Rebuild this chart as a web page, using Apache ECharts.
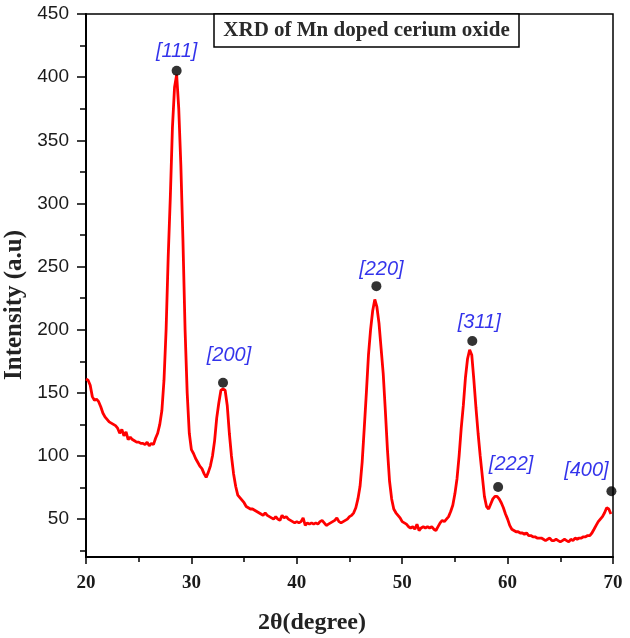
<!DOCTYPE html>
<html>
<head>
<meta charset="utf-8">
<script src="https://cdn.jsdelivr.net/npm/echarts@6/dist/echarts.min.js"></script>
<style>html,body{margin:0;padding:0;background:#fff;}#c{width:630px;height:638px;}</style>
</head>
<body>
<div id="c"></div>
<script>
// ---- data ----
var twoTheta = [20.0,20.2,20.4,20.6,20.8,21.0,21.2,21.4,21.6,21.8,22.0,22.2,22.4,22.6,22.8,23.0,23.2,23.4,23.6,23.8,24.0,24.2,24.4,24.6,24.8,25.0,25.2,25.4,25.6,25.8,26.0,26.2,26.4,26.6,26.8,27.0,27.2,27.4,27.6,27.8,28.0,28.2,28.4,28.6,28.8,29.0,29.2,29.4,29.6,29.8,30.0,30.2,30.4,30.6,30.8,31.0,31.2,31.4,31.6,31.8,32.0,32.2,32.4,32.6,32.8,33.0,33.2,33.4,33.6,33.8,34.0,34.2,34.4,34.6,34.8,35.0,35.2,35.4,35.6,35.8,36.0,36.2,36.4,36.6,36.8,37.0,37.2,37.4,37.6,37.8,38.0,38.2,38.4,38.6,38.8,39.0,39.2,39.4,39.6,39.8,40.0,40.2,40.4,40.6,40.8,41.0,41.2,41.4,41.6,41.8,42.0,42.2,42.4,42.6,42.8,43.0,43.2,43.4,43.6,43.8,44.0,44.2,44.4,44.6,44.8,45.0,45.2,45.4,45.6,45.8,46.0,46.2,46.4,46.6,46.8,47.0,47.2,47.4,47.6,47.8,48.0,48.2,48.4,48.6,48.8,49.0,49.2,49.4,49.6,49.8,50.0,50.2,50.4,50.6,50.8,51.0,51.2,51.4,51.6,51.8,52.0,52.2,52.4,52.6,52.8,53.0,53.2,53.4,53.6,53.8,54.0,54.2,54.4,54.6,54.8,55.0,55.2,55.4,55.6,55.8,56.0,56.2,56.4,56.6,56.8,57.0,57.2,57.4,57.6,57.8,58.0,58.2,58.4,58.6,58.8,59.0,59.2,59.4,59.6,59.8,60.0,60.2,60.4,60.6,60.8,61.0,61.2,61.4,61.6,61.8,62.0,62.2,62.4,62.6,62.8,63.0,63.2,63.4,63.6,63.8,64.0,64.2,64.4,64.6,64.8,65.0,65.2,65.4,65.6,65.8,66.0,66.2,66.4,66.6,66.8,67.0,67.2,67.4,67.6,67.8,68.0,68.2,68.4,68.6,68.8,69.0,69.2,69.4,69.6,69.8];
var intensity = [161,160,156,147,144,145,143,139,134,131,129,127,126,125,124,122,118,121,116,119,113,115,113,112,111,111,110,110,109,111,108,110,109,114,118,125,136,160,200,258,305,360,392,402,375,330,270,200,150,118,105,102,98,95,92,90,86,83,87,92,100,112,130,142,152,153,152,140,118,100,86,76,69,67,65,63,60,59,58,58,57,56,55,54,53,55,53,52,51,50,52,50,49,53,51,52,50,49,48,47,48,47,48,51,45,47,46,47,46,47,46,48,49,47,45,46,47,48,49,51,48,47,48,49,50,52,53,55,59,66,76,95,122,150,180,200,215,224,218,205,185,165,136,105,80,66,58,55,53,51,48,47,46,44,43,44,42,46,41,43,44,43,44,43,44,42,41,44,47,49,48,50,52,56,61,70,82,100,122,140,162,177,184,180,160,138,118,100,84,68,60,58,62,66,68,68,66,63,59,54,50,45,42,41,40,40,39,39,38,39,37,37,36,36,35,35,35,34,33,34,35,33,33,34,33,32,33,34,33,32,34,33,35,34,35,35,36,36,37,37,39,42,45,48,50,52,55,59,58,54];
var peakTheta = [28.6, 33.0, 47.55, 56.65, 59.1, 69.85];
var peakIntensity = [405, 158, 234.5, 191, 75.5, 72];
var peakLabels = ['[111]', '[200]', '[220]', '[311]', '[222]', '[400]'];
var xTicks = [20, 30, 40, 50, 60, 70];
var yTicks = [50, 100, 150, 200, 250, 300, 350, 400, 450];
var yMinorTicks = [25, 75, 125, 175, 225, 275, 325, 375, 425];
var chartTitle = 'XRD of Mn doped cerium oxide';
var xName = '2θ(degree)';
var yName = 'Intensity (a.u)';

// ---- styling (label offsets relative to each dot) ----
var labelOffsets = [[0,-19],[6,-27],[5,-17],[7,-19],[13,-22],[-25,-21]];

var linePts = twoTheta.map(function (x, i) { return [x, intensity[i]]; });
var peakPts = peakTheta.map(function (x, i) {
  return {
    value: [x, peakIntensity[i]],
    name: peakLabels[i],
    label: { offset: labelOffsets[i] }
  };
});

var serif = "'Liberation Serif','Times New Roman',serif";
var sans = "'Liberation Sans',Arial,sans-serif";

var chart = echarts.init(document.getElementById('c'));
chart.setOption({
  animation: false,
  backgroundColor: '#fff',
  grid: { left: 86, right: 17, top: 14, bottom: 81, show: true, borderColor: '#000', borderWidth: 1.5, backgroundColor: 'transparent' },
  xAxis: {
    type: 'value', min: 20, max: 70, interval: 10,
    axisLine: { lineStyle: { color: '#000', width: 2 } },
    axisTick: { length: 7, lineStyle: { color: '#000', width: 1.5 } },
    minorTick: { show: true, splitNumber: 2, length: 5, lineStyle: { color: '#000', width: 1.5 } },
    splitLine: { show: false },
    axisLabel: { margin: 17, color: '#1a1a1a', fontFamily: serif, fontWeight: 'bold', fontSize: 19, customValues: xTicks }
  },
  yAxis: [{
    type: 'value', min: 20, max: 450,
    axisLine: { show: true, lineStyle: { color: '#000', width: 2 } },
    axisTick: { show: true, length: 9, customValues: yTicks, lineStyle: { color: '#000', width: 1.5 } },
    splitLine: { show: false },
    axisLabel: { margin: 17, color: '#1a1a1a', fontFamily: sans, fontSize: 19, customValues: yTicks, showMaxLabel: true }
  }, {
    type: 'value', min: 20, max: 450, position: 'left',
    axisLine: { show: false },
    axisTick: { show: true, length: 6, customValues: yMinorTicks, lineStyle: { color: '#000', width: 1.5 } },
    splitLine: { show: false },
    axisLabel: { show: false }
  }],
  series: [{
    type: 'line', data: linePts, showSymbol: false, symbol: 'none',
    lineStyle: { color: '#ff0000', width: 2.8 }, z: 2
  }, {
    type: 'scatter', data: peakPts, symbol: 'circle', symbolSize: 10,
    itemStyle: { color: '#000' }, z: 3, clip: false,
    label: {
      show: true, position: 'inside', formatter: '{b}',
      color: '#0000e6', fontFamily: sans, fontStyle: 'italic', fontSize: 20
    }
  }],
  graphic: [
    { type: 'rect', shape: { x: 214, y: 14, width: 305, height: 33 }, style: { fill: '#fff', stroke: '#000', lineWidth: 1.5 }, z: 10 },
    { type: 'text', x: 366.5, y: 31, style: { text: chartTitle, font: 'bold 21px ' + serif, fill: '#2a2a2a', align: 'center', verticalAlign: 'middle' }, z: 11 },
    { type: 'text', x: 312, y: 623, style: { text: xName, font: 'bold 24px ' + serif, fill: '#222', align: 'center', verticalAlign: 'middle' }, z: 11 },
    { type: 'text', x: 15, y: 305, rotation: Math.PI / 2, style: { text: yName, font: 'bold 25px ' + serif, fill: '#222', align: 'center', verticalAlign: 'middle' }, z: 11 }
  ]
});
</script>
</body>
</html>
